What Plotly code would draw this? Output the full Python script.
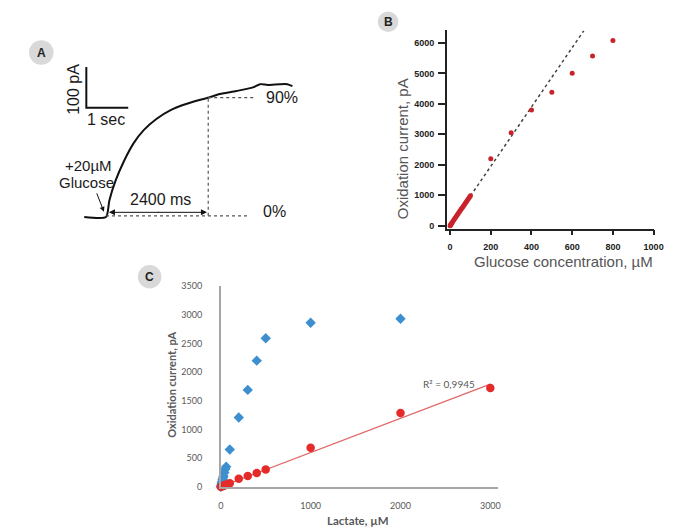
import plotly.graph_objects as go

W, H = 686, 531


def px(x):
    return x / W


def py(y):
    return 1 - y / H


# ---------------- Panel A: amperometric trace (time s, current pA) ----------------
trace_t = [-0.52, 0.0, 0.08, 0.23, 0.43, 0.66, 0.90, 1.21, 1.52, 1.91, 2.30, 2.46,
           2.69, 3.11, 3.51, 3.68, 3.86, 4.15, 4.33, 4.45]
trace_i = [0, 0, 41, 90, 138, 182, 214, 242, 262, 278, 290, 294,
           302, 310, 319, 327, 325, 327, 327, 322]
t90 = 2.44          # time of 90 % response (s)
i90 = 294           # current at 90 % (pA)
i0 = 3              # 0 % level (pA)
t90_end = 3.58
t0_end = 3.44
scale_t0, scale_i0 = -0.47, 269   # scale bar corner
scale_dt, scale_di = 1.0, 100.0   # 1 sec, 100 pA

# ---------------- Panel B: glucose calibration ----------------
b_x_low = [0, 2, 5, 8, 10, 15, 20, 25, 30, 35, 40, 45, 50, 55, 60, 65, 70, 75, 80, 85, 90, 95, 100]
b_y_low = [0, 20, 50, 80, 100, 150, 200, 250, 300, 350, 400, 450, 500, 545, 590, 640, 690, 735,
           785, 835, 880, 930, 985]
b_x_high = [200, 300, 400, 500, 600, 700, 800]
b_y_high = [2200, 3050, 3800, 4380, 5000, 5570, 6080]
b_fit_x = [0, 657]
b_fit_y = [0, 6400]
b_xticks = [0, 200, 400, 600, 800, 1000]
b_yticks = [0, 1000, 2000, 3000, 4000, 5000, 6000]

# ---------------- Panel C: lactate vs glucose sensor ----------------
blue_x = [0, 5, 10, 15, 20, 25, 30, 40, 50, 60, 100, 200, 300, 400, 500, 1000, 2000]
blue_y = [0, 30, 65, 95, 130, 160, 190, 250, 310, 350, 650, 1210, 1690, 2200, 2590, 2860, 2930]
red_x = [0, 5, 10, 20, 30, 40, 50, 60, 80, 100, 200, 300, 400, 500, 1000, 2000, 3000]
red_y = [0, 4, 8, 13, 19, 25, 30, 36, 48, 62, 142, 188, 239, 302, 683, 1286, 1724]
trend_x = [0, 3000]
trend_y = [0, 1791]
r2_text = "R² = 0,9945"
c_xticks = [0, 1000, 2000, 3000]
c_yticks = [0, 500, 1000, 1500, 2000, 2500, 3000, 3500]

fig = go.Figure()

# Panel A traces
fig.add_trace(go.Scatter(x=trace_t, y=trace_i, mode="lines",
                         line=dict(color="#111", width=2, shape="spline", smoothing=0.6),
                         xaxis="x", yaxis="y", hoverinfo="skip"))
dash_a = dict(color="#555", width=1.2, dash="3px,3px")
fig.add_trace(go.Scatter(x=[t90, t90_end], y=[i90, i90], mode="lines", line=dash_a, xaxis="x", yaxis="y"))
fig.add_trace(go.Scatter(x=[t90, t90], y=[i0, i90], mode="lines", line=dash_a, xaxis="x", yaxis="y"))
fig.add_trace(go.Scatter(x=[0, t0_end], y=[i0, i0], mode="lines", line=dash_a, xaxis="x", yaxis="y"))
fig.add_trace(go.Scatter(x=[scale_t0, scale_t0, scale_t0 + scale_dt],
                         y=[scale_i0 + scale_di, scale_i0, scale_i0],
                         mode="lines", line=dict(color="#111", width=2), xaxis="x", yaxis="y"))

# Panel B traces
fig.add_trace(go.Scatter(x=b_fit_x, y=b_fit_y, mode="lines",
                         line=dict(color="#444", width=1.5, dash="3px,3px"),
                         xaxis="x2", yaxis="y2"))
fig.add_trace(go.Scatter(x=b_x_low, y=b_y_low, mode="markers", marker=dict(color="#c8232b", size=5),
                         xaxis="x2", yaxis="y2", cliponaxis=False))
fig.add_trace(go.Scatter(x=b_x_high, y=b_y_high, mode="markers", marker=dict(color="#c8232b", size=5),
                         xaxis="x2", yaxis="y2", cliponaxis=False))

# Panel C traces
fig.add_trace(go.Scatter(x=trend_x, y=trend_y, mode="lines", line=dict(color="#e06666", width=1.2),
                         xaxis="x3", yaxis="y3"))
fig.add_trace(go.Scatter(x=blue_x, y=blue_y, mode="markers",
                         marker=dict(color="#3d8fcf", size=8, symbol="diamond"),
                         xaxis="x3", yaxis="y3", cliponaxis=False))
fig.add_trace(go.Scatter(x=red_x, y=red_y, mode="markers", marker=dict(color="#e52a2a", size=8.5),
                         xaxis="x3", yaxis="y3", cliponaxis=False))

fontA = dict(family="Liberation Sans, Arial", size=16, color="#1a1a1a")
fontA2 = dict(family="Liberation Sans, Arial", size=15, color="#1a1a1a")
C = dict(xanchor="center", yanchor="middle", showarrow=False)


def txt_a(x, y, text, font=fontA, **kw):
    return dict(x=x, y=y, text=text, xref="x", yref="y", font=font, **C, **kw)


annotations = [
    txt_a(-0.78, 314, "100 pA", textangle=-90),
    txt_a(0.0, 240, "1 sec"),
    txt_a(-0.43, 126, "+20µM", font=fontA2),
    txt_a(-0.47, 84, "Glucose", font=fontA2),
    txt_a(1.29, 42, "2400 ms"),
    txt_a(4.2, 293, "90%"),
    txt_a(4.03, 13, "0%"),
    # glucose injection arrow
    dict(x=-0.05, y=13, ax=-0.234, ay=62, xref="x", yref="y", axref="x", ayref="y", text="",
         showarrow=True, arrowhead=2, arrowsize=1, arrowwidth=1, arrowcolor="#111"),
    # double arrow 2400 ms
    dict(x=0.07, y=11.6, ax=1.3, ay=11.6, xref="x", yref="y", axref="x", ayref="y", text="",
         showarrow=True, arrowhead=2, arrowsize=1.2, arrowwidth=1, arrowcolor="#111"),
    dict(x=2.41, y=11.6, ax=1.2, ay=11.6, xref="x", yref="y", axref="x", ayref="y", text="",
         showarrow=True, arrowhead=2, arrowsize=1.2, arrowwidth=1, arrowcolor="#111"),
    # Panel B titles
    dict(x=px(408), y=py(146), xref="paper", yref="paper", text="Oxidation current, pA", textangle=-90,
         font=dict(family="Liberation Sans, Arial", size=15, color="#555"), **C),
    dict(x=px(571), y=py(261), xref="paper", yref="paper", text="Glucose concentration, µM",
         font=dict(family="Liberation Sans, Arial", size=15, color="#555"), **C),
    # Panel C titles
    dict(x=px(172), y=py(387), xref="paper", yref="paper", text="<b>Oxidation current, pA</b>", textangle=-90,
         font=dict(family="Lato", size=11, color="#595959"), **C),
    dict(x=px(362), y=py(525), xref="paper", yref="paper", text="<b>Lactate, µM</b>",
         font=dict(family="Lato", size=11.5, color="#595959"), **C),
    dict(x=px(455), y=py(386), xref="paper", yref="paper", text=r2_text,
         font=dict(family="Lato", size=10, color="#595959"), **C),
]

# panel letters in grey circles
shapes = []
for lab, cx, cy, r in [("A", 39, 47.5, 12.5), ("B", 392.5, 16, 10.5), ("C", 149.5, 276.5, 12)]:
    shapes.append(dict(type="circle", xref="paper", yref="paper",
                       x0=px(cx - r), x1=px(cx + r), y0=py(cy + r), y1=py(cy - r),
                       fillcolor="#d9d9d9", line=dict(width=0), layer="below"))
    annotations.append(dict(x=px(cx), y=py(cy), xref="paper", yref="paper", text=f"<b>{lab}</b>",
                            font=dict(family="Liberation Sans, Arial", size=12, color="#222"), **C))

tickB = dict(family="Liberation Sans, Arial", size=9, color="#222", weight="bold")
tickC = dict(family="Lato", size=9, color="#595959")

fig.update_layout(
    width=W, height=H, margin=dict(l=0, r=0, t=0, b=0),
    paper_bgcolor="white", plot_bgcolor="rgba(0,0,0,0)", showlegend=False,
    xaxis=dict(domain=[px(60), px(310)], range=[-1.054, 4.801], visible=False),
    yaxis=dict(domain=[py(230), py(40)], range=[-34.9, 422.9], visible=False),
    xaxis2=dict(domain=[px(452.3), px(663.2)], range=[-16.4, 1000], anchor="y2",
                tickvals=b_xticks, ticks="outside", ticklen=5, tickwidth=1.5, tickcolor="#222",
                showline=True, linecolor="#222", linewidth=1.5, showgrid=False, zeroline=False,
                tickfont=tickB, ticklabelstandoff=4),
    yaxis2=dict(domain=[py(227.3), py(25)], range=[-96.5, 6408], anchor="x2",
                tickvals=b_yticks, ticks="outside", ticklen=7, tickwidth=1.5, tickcolor="#222",
                showline=True, linecolor="#222", linewidth=1.5, showgrid=False, zeroline=False,
                tickfont=tickB, ticklabelstandoff=2),
    xaxis3=dict(domain=[px(222), px(505)], range=[0, 3090], anchor="y3",
                tickvals=c_xticks, ticks="", showline=True, linecolor="#a6a6a6", linewidth=1.5,
                showgrid=False, zeroline=False, tickfont=tickC, ticklabelstandoff=10),
    yaxis3=dict(domain=[py(491), py(286)], range=[0, 3500], anchor="x3",
                tickvals=c_yticks, ticks="", showline=True, linecolor="#a6a6a6", linewidth=1.5,
                showgrid=False, zeroline=False, tickfont=tickC, ticklabelstandoff=15),
    annotations=annotations, shapes=shapes,
)

fig.write_html("out.html", config={"displayModeBar": False},
               post_script="document.body.style.margin='0';document.body.style.overflow='hidden';")
